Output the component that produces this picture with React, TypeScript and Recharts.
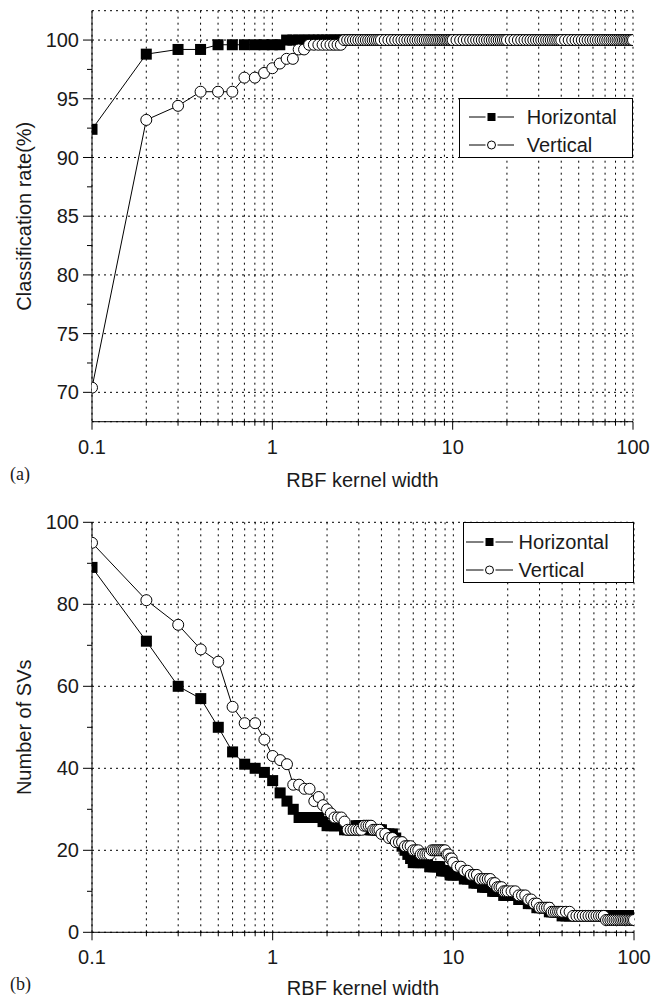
import React from "react";
import { LineChart, Line, XAxis, YAxis, CartesianGrid, Legend } from "recharts";

const FONT = '"Liberation Sans", Arial, Helvetica, sans-serif';
const INK = "#1a1a1a";

// RBF kernel width (x), shared by both panels
const kernelWidth = [
  0.1, 0.2, 0.3, 0.4, 0.5, 0.6, 0.7, 0.8, 0.9, 1.0,
  1.1, 1.2, 1.3, 1.4, 1.5, 1.6, 1.7, 1.8, 1.9, 2.0,
  2.1, 2.2, 2.3, 2.4, 2.5, 2.6, 2.7, 2.8, 2.9, 3.0,
  3.1, 3.2, 3.3, 3.4, 3.5, 3.6, 3.7, 3.8, 3.9, 4.0,
  4.2, 4.4, 4.6, 4.8, 5.0, 5.2, 5.4, 5.6, 5.8, 6.0,
  6.2, 6.4, 6.6, 6.8, 7.0, 7.2, 7.4, 7.6, 7.8, 8.0,
  8.2, 8.4, 8.6, 8.8, 9.0, 9.2, 9.4, 9.6, 9.8, 10,
  10.5, 11, 11.5, 12, 12.5, 13, 13.5, 14, 14.5, 15,
  15.5, 16, 16.5, 17, 17.5, 18, 18.5, 19, 19.5, 20,
  21, 22, 23, 24, 25, 26, 27, 28, 29, 30,
  31, 32, 33, 34, 35, 36, 37, 38, 39, 40,
  42, 44, 46, 48, 50, 52, 54, 56, 58, 60,
  62, 64, 66, 68, 70, 72, 74, 76, 78, 80,
  82, 84, 86, 88, 90, 92, 94, 96, 98, 100,
];

// (a) classification rate (%)
const rateHorizontal = [
  92.4, 98.8, 99.2, 99.2, 99.6, 99.6, 99.6, 99.6, 99.6, 99.6,
  99.6, 100, 100, 100, 100, 100, 100, 100, 100, 100,
  100, 100, 100, 100, 100, 100, 100, 100, 100, 100,
  100, 100, 100, 100, 100, 100, 100, 100, 100, 100,
  100, 100, 100, 100, 100, 100, 100, 100, 100, 100,
  100, 100, 100, 100, 100, 100, 100, 100, 100, 100,
  100, 100, 100, 100, 100, 100, 100, 100, 100, 100,
  100, 100, 100, 100, 100, 100, 100, 100, 100, 100,
  100, 100, 100, 100, 100, 100, 100, 100, 100, 100,
  100, 100, 100, 100, 100, 100, 100, 100, 100, 100,
  100, 100, 100, 100, 100, 100, 100, 100, 100, 100,
  100, 100, 100, 100, 100, 100, 100, 100, 100, 100,
  100, 100, 100, 100, 100, 100, 100, 100, 100, 100,
  100, 100, 100, 100, 100, 100, 100, 100, 100, 100,
];
const rateVertical = [
  70.4, 93.2, 94.4, 95.6, 95.6, 95.6, 96.8, 96.8, 97.2, 97.6,
  98.0, 98.4, 98.4, 99.2, 99.2, 99.6, 99.6, 99.6, 99.6, 99.6,
  99.6, 99.6, 99.6, 99.6, 100, 100, 100, 100, 100, 100,
  100, 100, 100, 100, 100, 100, 100, 100, 100, 100,
  100, 100, 100, 100, 100, 100, 100, 100, 100, 100,
  100, 100, 100, 100, 100, 100, 100, 100, 100, 100,
  100, 100, 100, 100, 100, 100, 100, 100, 100, 100,
  100, 100, 100, 100, 100, 100, 100, 100, 100, 100,
  100, 100, 100, 100, 100, 100, 100, 100, 100, 100,
  100, 100, 100, 100, 100, 100, 100, 100, 100, 100,
  100, 100, 100, 100, 100, 100, 100, 100, 100, 100,
  100, 100, 100, 100, 100, 100, 100, 100, 100, 100,
  100, 100, 100, 100, 100, 100, 100, 100, 100, 100,
  100, 100, 100, 100, 100, 100, 100, 100, 100, 100,
];

// (b) number of support vectors
const svHorizontal = [
  89, 71, 60, 57, 50, 44, 41, 40, 39, 37,
  34, 32, 30, 28, 28, 28, 28, 28, 27, 26,
  26, 26, 26, 26, 25, 25, 25, 25, 26, 26,
  26, 26, 26, 25, 25, 25, 25, 25, 25, 25,
  24, 24, 24, 23, 22, 21, 20, 19, 18, 17,
  17, 17, 17, 17, 17, 17, 16, 16, 16, 16,
  16, 16, 15, 15, 15, 15, 15, 14, 14, 14,
  14, 14, 13, 13, 13, 12, 12, 12, 11, 11,
  11, 11, 10, 10, 10, 10, 10, 9, 9, 9,
  9, 9, 8, 8, 8, 7, 7, 7, 6, 6,
  6, 6, 6, 5, 5, 5, 5, 5, 5, 4,
  4, 4, 4, 4, 4, 4, 4, 4, 4, 4,
  4, 4, 4, 4, 4, 4, 4, 4, 4, 4,
  4, 4, 4, 4, 4, 4, 4, 4, 4, 4,
];
const svVertical = [
  95, 81, 75, 69, 66, 55, 51, 51, 47, 43,
  42, 41, 36, 36, 35, 35, 32, 33, 31, 30,
  29, 28, 28, 28, 27, 25, 25, 25, 25, 25,
  25, 26, 26, 26, 26, 25, 25, 25, 25, 24,
  24, 23, 23, 22, 22, 22, 21, 21, 21, 20,
  20, 20, 19, 19, 19, 19, 19, 20, 20, 20,
  20, 20, 20, 20, 20, 19, 19, 18, 18, 17,
  16, 16, 15, 15, 14, 14, 14, 13, 13, 13,
  13, 13, 12, 12, 11, 11, 11, 10, 10, 10,
  10, 10, 9, 9, 9, 8, 8, 7, 7, 6,
  6, 6, 6, 6, 5, 5, 5, 5, 5, 5,
  5, 5, 4, 4, 4, 4, 4, 4, 4, 4,
  4, 4, 4, 4, 3, 3, 3, 3, 3, 3,
  3, 3, 3, 3, 3, 3, 3, 3, 3, 3,
];

const seriesNames = ["Horizontal", "Vertical"];

const xTicks = [
  0.1, 0.2, 0.3, 0.4, 0.5, 0.6, 0.7, 0.8, 0.9,
  1, 2, 3, 4, 5, 6, 7, 8, 9,
  10, 20, 30, 40, 50, 60, 70, 80, 90, 100,
];
const xLabels = [0.1, 1, 10, 100];

const rateTicks = [70, 72.5, 75, 77.5, 80, 82.5, 85, 87.5, 90, 92.5, 95, 97.5, 100];
const rateLabels = [70, 75, 80, 85, 90, 95, 100];
const svTicks = [0, 10, 20, 30, 40, 50, 60, 70, 80, 90, 100];
const svLabels = [0, 20, 40, 60, 80, 100];

const XTick = (props: any) => {
  const { x, y, payload } = props;
  const major = xLabels.includes(payload.value);
  return (
    <g>
      <line x1={x} x2={x} y1={major ? y : y - 1.5} y2={y + (major ? 8 : 4)} stroke="#000" />
      {major && (
        <text x={x} y={y + 32} textAnchor="middle" fill={INK} fontSize={20} fontFamily={FONT}>
          {String(payload.value)}
        </text>
      )}
    </g>
  );
};

const makeYTick = (labels: number[]) => (props: any) => {
  const { x, y, payload } = props;
  const major = labels.includes(payload.value);
  return (
    <g>
      <line x1={x - (major ? 9 : 5)} x2={x} y1={y} y2={y} stroke="#000" />
      {major && (
        <text x={x - 13} y={y} dy="0.355em" textAnchor="end" fill={INK} fontSize={20} fontFamily={FONT}>
          {String(payload.value)}
        </text>
      )}
    </g>
  );
};

const SquareDot = (p: any) => (
  <rect key={`sq-${p.index}`} x={p.cx - 5.5} y={p.cy - 5.5} width={11} height={11} fill="#000" />
);

type LegendCfg = { left: number; top: number; w: number; h: number; padTop: number; padLeft: number; lineLen: number; gap: number };

const LegendBox = ({ cfg }: { cfg: LegendCfg }) => {
  const mid = cfg.padLeft + cfg.lineLen / 2;
  return (
    <div
      style={{
        width: cfg.w,
        height: cfg.h,
        boxSizing: "border-box",
        border: "1px solid #000",
        background: "#fff",
        paddingTop: cfg.padTop,
        fontFamily: FONT,
        fontSize: 20,
        color: INK,
      }}
    >
      {seriesNames.map((name, i) => (
        <div key={name} style={{ display: "flex", alignItems: "center", height: 28.3 }}>
          <svg width={cfg.padLeft + cfg.lineLen} height={14} style={{ display: "block" }}>
            <line x1={cfg.padLeft} x2={mid - 6} y1={7} y2={7} stroke="#000" />
            <line x1={mid + 6} x2={cfg.padLeft + cfg.lineLen} y1={7} y2={7} stroke="#000" />
            {i === 0 ? (
              <rect x={mid - 4} y={3} width={8} height={8} fill="#000" />
            ) : (
              <circle cx={mid} cy={7} r={4} fill="#fff" stroke="#000" />
            )}
          </svg>
          <span style={{ marginLeft: cfg.gap, lineHeight: "20px" }}>{name}</span>
        </div>
      ))}
    </div>
  );
};

type PanelProps = {
  h: number[];
  v: number[];
  yDomain: [number, number];
  yTicks: number[];
  yLabels: number[];
  yTitle: string;
  height: number;
  margin: { top: number; right: number; bottom: number; left: number };
  xAxisHeight: number;
  titleOffset: number;
  legend: LegendCfg;
};

const Panel = ({ h, v, yDomain, yTicks, yLabels, yTitle, height, margin, xAxisHeight, titleOffset, legend }: PanelProps) => {
  const data = kernelWidth.map((x, i) => ({ x, h: h[i], v: v[i] }));
  return (
    <LineChart width={651} height={height} data={data} margin={margin}>
      <CartesianGrid yAxisId="grid" stroke="#000" strokeWidth={1} strokeDasharray="2 4" />
      <XAxis
        dataKey="x"
        type="number"
        scale="log"
        domain={[0.1, 100]}
        allowDataOverflow
        ticks={xTicks}
        interval={0}
        height={xAxisHeight}
        axisLine={{ stroke: "#000" }}
        tickLine={false}
        tickSize={0}
        tickMargin={0}
        tick={<XTick />}
        label={{
          value: "RBF kernel width",
          position: "insideBottom",
          offset: titleOffset,
          fill: INK,
          fontSize: 20,
          fontFamily: FONT,
        }}
      />
      <XAxis
        xAxisId="top"
        orientation="top"
        type="number"
        scale="log"
        domain={[0.1, 100]}
        allowDataOverflow
        height={0}
        tick={false}
        tickLine={false}
        axisLine={{ stroke: "#000" }}
      />
      <YAxis
        type="number"
        domain={yDomain}
        allowDataOverflow
        ticks={yTicks}
        interval={0}
        width={84}
        axisLine={{ stroke: "#000" }}
        tickLine={false}
        tickSize={0}
        tickMargin={0}
        tick={makeYTick(yLabels)}
        label={{
          value: yTitle,
          angle: -90,
          position: "insideLeft",
          offset: 16,
          fill: INK,
          fontSize: 20,
          fontFamily: FONT,
          style: { textAnchor: "middle" },
        }}
      />
      <YAxis yAxisId="grid" type="number" domain={yDomain} allowDataOverflow ticks={yLabels} interval={0} hide />
      <YAxis
        yAxisId="right"
        orientation="right"
        type="number"
        domain={yDomain}
        allowDataOverflow
        ticks={yTicks}
        interval={0}
        width={0}
        mirror
        tickSize={4}
        tickLine={{ stroke: "#000" }}
        axisLine={{ stroke: "#000" }}
        tick={() => <g />}
      />
      <Legend
        layout="horizontal"
        verticalAlign="middle"
        align="center"
        width={legend.w}
        wrapperStyle={{ left: legend.left, top: legend.top, width: legend.w, height: legend.h }}
        content={() => <LegendBox cfg={legend} />}
      />
      <Line
        name={seriesNames[0]}
        dataKey="h"
        stroke="#000"
        strokeWidth={1}
        dot={SquareDot}
        activeDot={false}
        isAnimationActive={false}
      />
      <Line
        name={seriesNames[1]}
        dataKey="v"
        stroke="#000"
        strokeWidth={1}
        dot={{ r: 5.5, fill: "#fff", stroke: "#000", strokeWidth: 1 }}
        activeDot={false}
        isAnimationActive={false}
      />
    </LineChart>
  );
};

const panelLabel: React.CSSProperties = {
  position: "absolute",
  left: 10,
  fontFamily: '"Liberation Serif", "Times New Roman", serif',
  fontSize: 18,
  lineHeight: "18px",
  color: INK,
};

export default function App() {
  return (
    <div style={{ position: "absolute", left: 0, top: 0, width: 651, height: 998, overflow: "hidden", background: "#fff" }}>
      <div style={{ position: "absolute", left: 0, top: 0 }}>
        <Panel
          h={rateHorizontal}
          v={rateVertical}
          yDomain={[67.5, 102.5]}
          yTicks={rateTicks}
          yLabels={rateLabels}
          yTitle="Classification rate(%)"
          height={500}
          margin={{ top: 10.7, right: 18, bottom: 8.3, left: 8 }}
          xAxisHeight={70}
          titleOffset={5}
          legend={{ left: 459, top: 97.7, w: 174, h: 60, padTop: 3.85, padLeft: 9, lineLen: 45, gap: 12.7 }}
        />
      </div>
      <div style={{ position: "absolute", left: 0, top: 500 }}>
        <Panel
          h={svHorizontal}
          v={svVertical}
          yDomain={[0, 100]}
          yTicks={svTicks}
          yLabels={svLabels}
          yTitle="Number of SVs"
          height={498}
          margin={{ top: 22.3, right: 17, bottom: 0.7, left: 8 }}
          xAxisHeight={65}
          titleOffset={2.5}
          legend={{ left: 463, top: 22, w: 171, h: 61, padTop: 4.5, padLeft: 2, lineLen: 47, gap: 5.6 }}
        />
      </div>
      <div style={{ ...panelLabel, top: 465 }}>(a)</div>
      <div style={{ ...panelLabel, top: 975 }}>(b)</div>
    </div>
  );
}
